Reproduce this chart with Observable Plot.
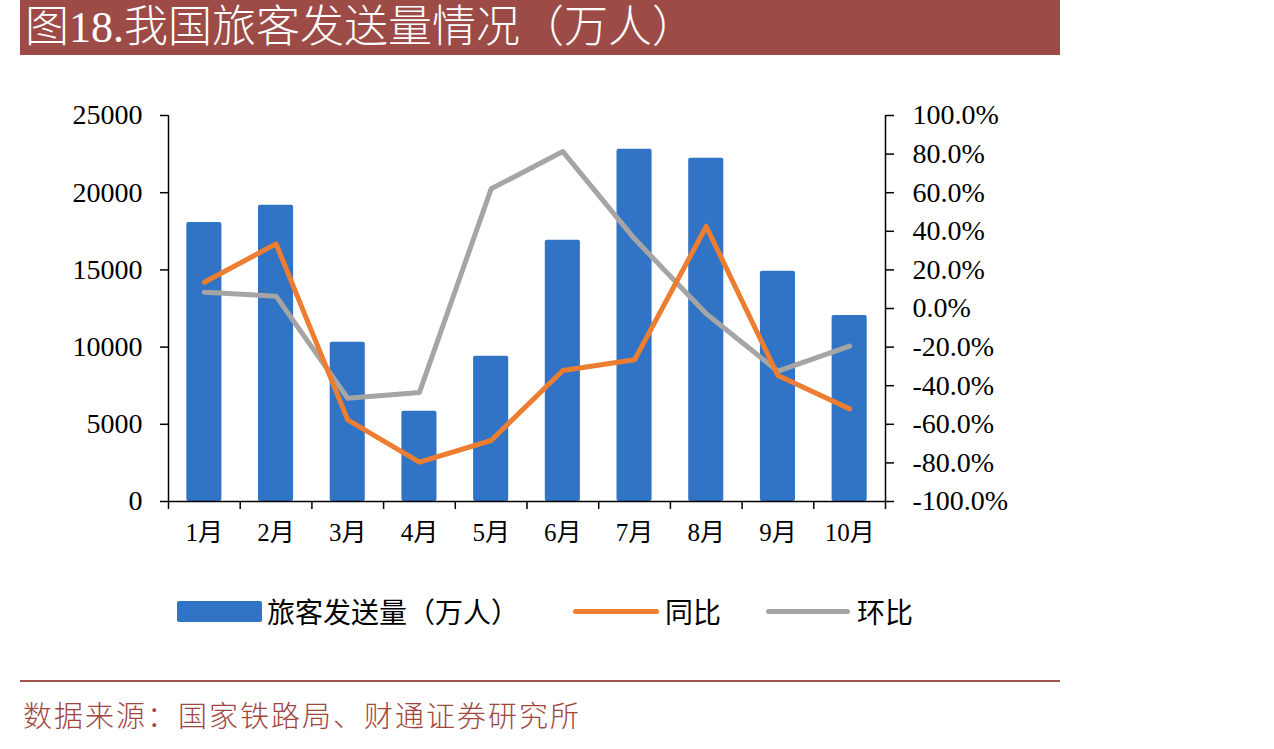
<!DOCTYPE html>
<html>
<head>
<meta charset="utf-8">
<script src="https://cdn.jsdelivr.net/npm/d3@7"></script>
<script src="https://cdn.jsdelivr.net/npm/@observablehq/plot@0.6"></script>
<style>
  html, body { margin: 0; padding: 0; background: #fff; width: 1274px; height: 749px; overflow: hidden; }
  #chart { position: absolute; left: 0; top: 0; }
  .title { position: absolute; left: 20px; top: 0; width: 1040px; height: 55px; background: #9C4B46; color: #fff;
           font-family: "Liberation Serif", "Noto Sans CJK SC", serif; font-size: 44px; line-height: 55px; padding-left: 5px; box-sizing: border-box; white-space: nowrap; font-weight: 300; }
  .leg { position: absolute; font-family: "Noto Sans CJK SC", sans-serif; font-size: 28px; color: #000; line-height: 30px; white-space: nowrap; }
  .sw { position: absolute; }
  .footline { position: absolute; left: 20px; top: 680px; width: 1040px; height: 2px; background: #A0524C; }
  .foot { position: absolute; left: 23px; top: 699px; font-family: "Liberation Serif", "Noto Sans CJK SC", serif; font-size: 29px; letter-spacing: 2px; color: #A0463F; line-height: 36px; white-space: nowrap; font-weight: 300; }
</style>
</head>
<body>
<div id="chart"></div>
<div class="title">图18.我国旅客发送量情况（万人）</div>
<div class="sw" style="left:177px;top:601px;width:85px;height:21px;background:#3173C4;border-radius:2px;"></div>
<div class="leg" style="left:267px;top:596px;">旅客发送量（万人）</div>
<div class="sw" style="left:573px;top:609px;width:86px;height:5px;background:#ED7D31;border-radius:3px;"></div>
<div class="leg" style="left:665px;top:596px;">同比</div>
<div class="sw" style="left:766px;top:609px;width:84px;height:5px;background:#A5A5A5;border-radius:3px;"></div>
<div class="leg" style="left:857px;top:596px;">环比</div>
<div class="footline"></div>
<div class="foot">数据来源：国家铁路局、财通证券研究所</div>
<script>
// ---- data ----
const months = ["1月","2月","3月","4月","5月","6月","7月","8月","9月","10月"];
const passengers = [18070,19190,10318,5848,9411,16924,22818,22235,14916,12047];
const yoy = [13.6,33.5,-57.7,-79.6,-68.4,-32.1,-26.6,42.5,-34.7,-52.0];
const mom = [8.4,6.4,-46.5,-43.5,62.0,81.3,36.1,-2.7,-32.5,-19.5];
const leftTicks = [0,5000,10000,15000,20000,25000];
const rightTicks = [-100,-80,-60,-40,-20,0,20,40,60,80,100];

const LMAX = 25000;
const toLeft = p => (p + 100) / 200 * LMAX;
const fromLeft = v => v / LMAX * 200 - 100;

const data = months.map((m, i) => ({i, m, v: passengers[i], yoy: yoy[i], mom: mom[i]}));

const chart = Plot.plot({
  width: 1274,
  height: 560,
  marginTop: 115,
  marginBottom: 59,
  marginLeft: 168,
  marginRight: 389,
  x: {type: "linear", domain: [0, months.length], axis: null, label: null},
  y: {domain: [0, LMAX], axis: null, label: null},
  style: {background: "transparent", fontFamily: "Liberation Serif, Noto Sans CJK SC, serif", color: "#000"},
  marks: [
    Plot.rectY(data, {x1: "i", x2: d => d.i + 1, y: "v", fill: "#3173C4", insetLeft: 18.3, insetRight: 18.3, rx: 2}),
    Plot.line(data, {x: d => d.i + 0.5, y: d => toLeft(d.mom), stroke: "#A5A5A5", strokeWidth: 5, strokeLinecap: "round", strokeLinejoin: "round"}),
    Plot.line(data, {x: d => d.i + 0.5, y: d => toLeft(d.yoy), stroke: "#ED7D31", strokeWidth: 5, strokeLinecap: "round", strokeLinejoin: "round"}),
    Plot.ruleY([0], {stroke: "#000", strokeWidth: 1.5}),
    Plot.ruleX([0, months.length], {y1: 0, y2: LMAX, stroke: "#000", strokeWidth: 1.5}),
    Plot.axisY(leftTicks, {anchor: "left", label: null, tickSize: 8, tickPadding: 18, fontSize: 28, strokeWidth: 1.5, tickFormat: d => String(d)}),
    Plot.axisY(rightTicks.map(toLeft), {anchor: "right", label: null, tickSize: 8, tickPadding: 19, fontSize: 28, strokeWidth: 1.5, tickFormat: v => fromLeft(v).toFixed(1) + "%"}),
    Plot.axisX(d3.range(0, months.length + 1), {anchor: "bottom", label: null, tickSize: 8, strokeWidth: 1.5, tickFormat: () => ""}),
    Plot.axisX(months.map((m, i) => i + 0.5), {anchor: "bottom", label: null, tickSize: 0, tickPadding: 22, fontSize: 25, tickFormat: v => months[Math.floor(v)]})
  ]
});
document.getElementById("chart").appendChild(chart);
</script>
</body>
</html>
